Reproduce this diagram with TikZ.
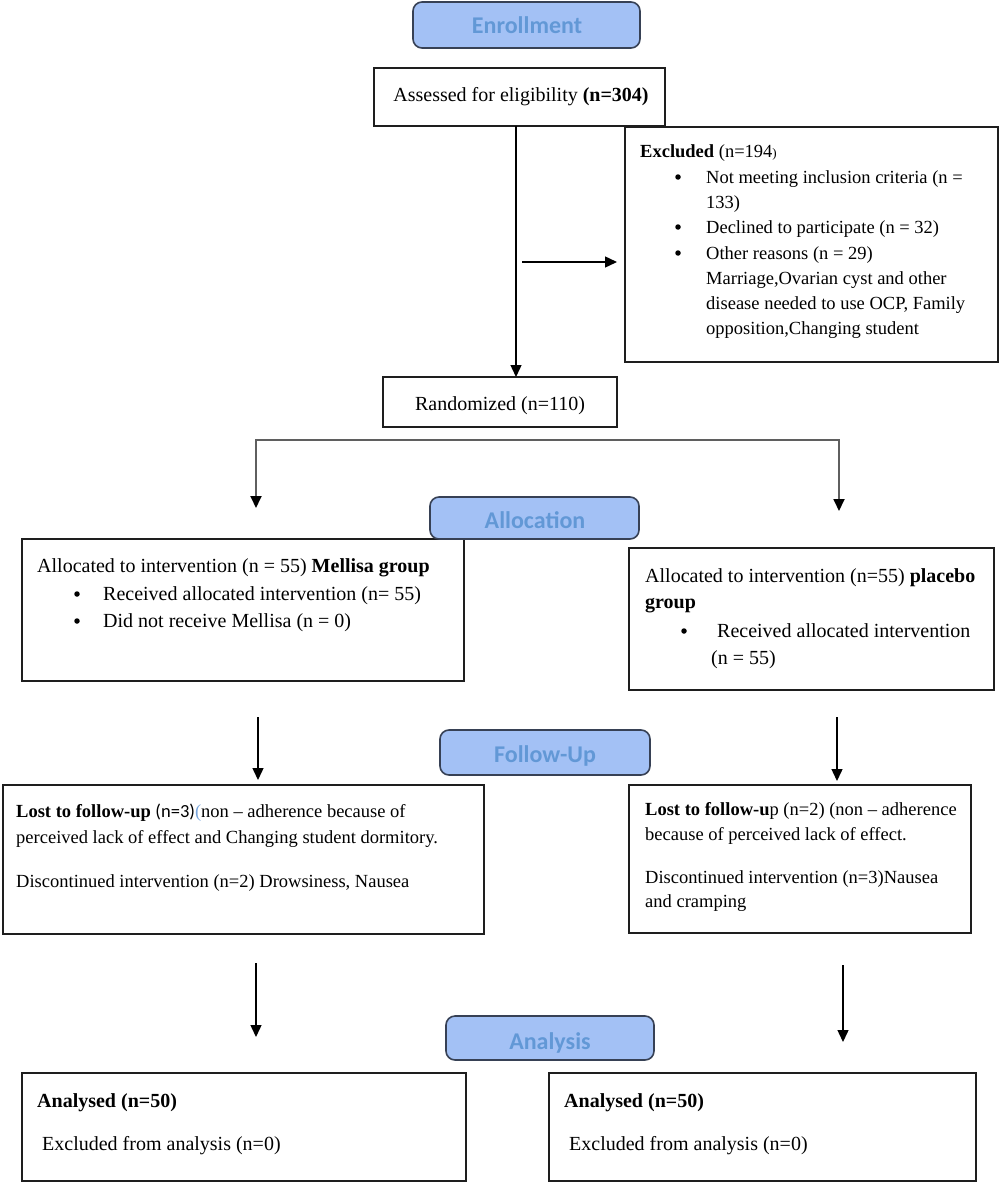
\documentclass[tikz,border=0pt]{standalone}
\usepackage{fontspec}
\setmainfont{Liberation Serif}
\newfontfamily\hdrfont{Carlito}
\newfontfamily\sansfont{Carlito}
\usetikzlibrary{arrows.meta}
\definecolor{hdrfill}{RGB}{163,193,245}
\definecolor{hdrtext}{RGB}{98,152,214}
\definecolor{hdrline}{RGB}{55,65,85}
\definecolor{boxline}{RGB}{30,30,30}
\definecolor{branch}{RGB}{95,95,95}
\definecolor{paren}{RGB}{120,165,220}
\tikzset{
  box/.style={draw=boxline, line width=1.8pt, inner sep=0pt, outer sep=0pt, anchor=north west},
  hdr/.style={draw=hdrline, fill=hdrfill, rounded corners=9pt, line width=1.6pt, inner sep=0pt, outer sep=0pt, anchor=north west},
  htxt/.style={anchor=base, inner sep=0pt, text=hdrtext, font=\hdrfont\bfseries\fontsize{24}{28}\selectfont},
  txt/.style={anchor=base west, inner sep=0pt, font=\fontsize{20}{24}\selectfont},
  ctxt/.style={anchor=base, inner sep=0pt, font=\fontsize{20}{24}\selectfont},
  stxt/.style={anchor=base west, inner sep=0pt, font=\fontsize{18.5}{22}\selectfont},
  dot/.style={circle, fill=black, inner sep=0pt, minimum size=5.5pt},
  arr/.style={-{Triangle[length=12pt,width=11pt]}, line width=1.4pt, draw=black},
  brarr/.style={{Triangle[length=12pt,width=11pt,color=black]}-{Triangle[length=12pt,width=11pt,color=black]}, line width=1.8pt, draw=branch},
}
\begin{document}
\begin{tikzpicture}[x=1pt,y=-1pt]
\useasboundingbox (0,0) rectangle (1000,1183);

% ---------- boxes ----------
\node[box, minimum width=291pt, minimum height=58pt] (assess) at (374,68) {};
\node[box, minimum width=373pt, minimum height=235pt] (excl) at (625,127) {};
\node[box, minimum width=234pt, minimum height=50pt] (rand) at (383,377) {};
\node[box, minimum width=442pt, minimum height=142pt] (lalloc) at (22,539) {};
\node[box, minimum width=365pt, minimum height=142pt] (ralloc) at (629,548) {};
\node[box, minimum width=481pt, minimum height=149pt] (lfollow) at (3,785) {};
\node[box, minimum width=342pt, minimum height=148pt] (rfollow) at (629,785) {};
\node[box, minimum width=444pt, minimum height=108pt] (lana) at (22,1073) {};
\node[box, minimum width=427pt, minimum height=108pt] (rana) at (549,1073) {};

% ---------- headers ----------
\node[hdr, minimum width=227pt, minimum height=46pt] (enroll) at (413,2) {};
\node[hdr, minimum width=209pt, minimum height=42pt] (alloc) at (430,497) {};
\node[hdr, minimum width=210pt, minimum height=45pt] (follow) at (440,730) {};
\node[hdr, minimum width=208pt, minimum height=44pt] (analysis) at (446,1016) {};
\node[htxt] (enrollT) at (527,33) {Enrollment};
\node[htxt] (allocT) at (535,528) {Allocation};
\node[htxt] (followT) at (545,762) {Follow-Up};
\node[htxt] (analysisT) at (550,1049) {Analysis};

% ---------- texts ----------
\node[ctxt] (assessT) at (521,101) {Assessed for eligibility \textbf{(n=304)}};
\node[ctxt] (randT) at (500,410) {Randomized (n=110)};

\node[stxt] (ex1) at (640,157) {\textbf{Excluded} (n=194{\fontsize{13}{14}\selectfont)}};
\node[dot] (exb1) at (678,177) {};
\node[stxt] (ex2) at (706,183) {Not meeting inclusion criteria (n =};
\node[stxt] (ex3) at (706,208) {133)};
\node[dot] (exb2) at (678,227) {};
\node[stxt] (ex4) at (706,233) {Declined to participate (n = 32)};
\node[dot] (exb3) at (678,253) {};
\node[stxt] (ex5) at (706,259) {Other reasons (n = 29)};
\node[stxt] (ex6) at (706,284) {Marriage,Ovarian cyst and other};
\node[stxt] (ex7) at (706,309) {disease needed to use OCP, Family};
\node[stxt] (ex8) at (706,334) {opposition,Changing student};

\node[txt] (la1) at (37,572) {Allocated to intervention (n = 55) \textbf{Mellisa group}};
\node[dot] (lab1) at (77,594) {};
\node[txt] (la2) at (103,600) {Received allocated intervention (n= 55)};
\node[dot] (lab2) at (77,621) {};
\node[txt] (la3) at (103,627) {Did not receive Mellisa (n = 0)};

\node[txt] (ra1) at (645,582) {Allocated to intervention (n=55) \textbf{placebo}};
\node[txt] (ra2) at (645,608) {\textbf{group}};
\node[dot] (rab1) at (684,631) {};
\node[txt] (ra3) at (717,637) {Received allocated intervention};
\node[txt] (ra4) at (711,664) {(n = 55)};

\node[stxt] (lf1) at (16,817) {\textbf{Lost to follow-up} {\sansfont (n=3)}{\color{paren}(}non -- adherence because of};
\node[stxt] (lf2) at (16,843) {perceived lack of effect and Changing student dormitory.};
\node[stxt] (lf3) at (16,887) {Discontinued intervention (n=2) Drowsiness, Nausea};

\node[stxt] (rf1) at (645,815) {\textbf{Lost to follow-u}p (n=2) (non -- adherence};
\node[stxt] (rf2) at (645,840) {because of perceived lack of effect.};
\node[stxt] (rf3) at (645,883) {Discontinued intervention (n=3)Nausea};
\node[stxt] (rf4) at (645,907) {and cramping};

\node[txt] (lan1) at (37,1107) {\textbf{Analysed (n=50)}};
\node[txt] (lan2) at (42,1150) {Excluded from analysis (n=0)};
\node[txt] (ran1) at (564,1107) {\textbf{Analysed (n=50)}};
\node[txt] (ran2) at (569,1150) {Excluded from analysis (n=0)};

% ---------- connectors ----------
\coordinate (v1) at (516,0);
\draw[arr] (assess.south -| v1) -- (rand.north -| v1);
\coordinate (h1) at (522,262);
\draw[arr, shorten >=8pt] (h1) -- (h1 -| excl.west);

\coordinate (tL) at (256,508);
\coordinate (bL) at (256,440);
\coordinate (bR) at (839,440);
\coordinate (tR) at (839,511);
\draw[brarr] (tL) -- (bL) -- (bR) -- (tR);

\coordinate (fLs) at (258,717);
\coordinate (fLe) at (258,780);
\coordinate (fRs) at (837,717);
\coordinate (fRe) at (837,781);
\draw[arr] (fLs) -- (fLe);
\draw[arr] (fRs) -- (fRe);

\coordinate (aLs) at (256,963);
\coordinate (aLe) at (256,1037);
\coordinate (aRs) at (843,965);
\coordinate (aRe) at (843,1042);
\draw[arr] (aLs) -- (aLe);
\draw[arr] (aRs) -- (aRe);
\end{tikzpicture}
\end{document}
